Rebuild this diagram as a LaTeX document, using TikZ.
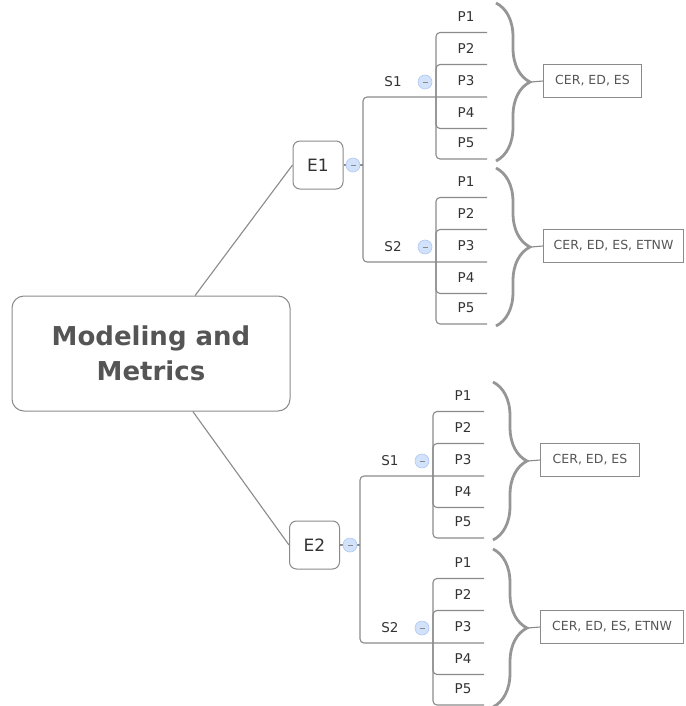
\documentclass[tikz,border=0pt]{standalone}
\usepackage{fontspec}
\setmainfont{DejaVu Sans}
\usetikzlibrary{decorations.pathreplacing,calc}
\definecolor{ln}{HTML}{8A8A8A}
\definecolor{tx}{HTML}{333333}
\definecolor{tt}{HTML}{555555}
\definecolor{cf}{HTML}{D3E2FB}
\definecolor{cb}{HTML}{AFC8F3}
\tikzset{
 conn/.style={draw=ln, line width=1.1pt},
 elbow/.style={conn, rounded corners=4pt},
 topicbox/.style={draw=ln, line width=1pt, rounded corners=7pt, minimum width=50pt, minimum height=48pt, font=\fontsize{17}{20}\selectfont, text=tx},
 leaf/.style={font=\fontsize{13.5}{15}\selectfont, text=tx, inner sep=0pt},
 collapse/.style={circle, fill=cf, draw=cb, line width=0.6pt, minimum size=14pt, inner sep=0pt,
   path picture={\draw[ln, line width=0.8pt] ([xshift=-2.5pt]path picture bounding box.center) -- ([xshift=2.5pt]path picture bounding box.center);}},
 notebox/.style={draw=ln, line width=1pt, font=\fontsize{12.5}{14}\selectfont, text=tt, minimum height=33pt, inner xsep=6pt, anchor=west},
 bracestyle/.style={draw=ln!90, line width=2.8pt, decorate, decoration={brace, amplitude=34pt, aspect=0.5}},
}
\newcommand{\subgroup}[7]{%
  \coordinate (#1h) at (#4,#5);
  \coordinate (#1e) at ({#4+51},#5);
  \node[leaf] (#1lab) at ({#4-43},{#5-15}) {#2};
  \node[collapse] (#1c) at ({#4-11},{#5-15}) {};
  \draw[elbow] (#3) |- (#1e);
  \foreach \k/\off in {1/-64.5,2/-32.5,4/31.5,5/62}{
     \coordinate (#1u\k) at ({#4+51},{#5+(\off)});
     \draw[elbow] (#1h) |- (#1u\k);
  }
  \foreach \k/\off in {1/-64.5,2/-32.5,3/0,4/31.5,5/62}{
     \node[leaf] (#1p\k) at ({#4+30},{#5+(\off)-16}) {P\k};
  }
  \coordinate (#1bt) at ({#4+60},{#5-94});
  \coordinate (#1bb) at ({#4+60},{#5+64});
  \draw[bracestyle] (#1bt) -- (#1bb);
  \coordinate (#1tip) at ({#4+95},{#5-15});
  \node[notebox, minimum width=#7] (#1n) at ({#4+107},{#5-16}) {#6};
  \draw[conn] (#1tip) -- (#1n.west);
}
\begin{document}
\begin{tikzpicture}[x=1pt,y=-1pt]
\useasboundingbox (0,0) rectangle (685,706);
\node[draw=ln, line width=1pt, rounded corners=12pt, minimum width=278pt, minimum height=115pt,
      align=center, text=tt, font=\bfseries\fontsize{26}{35}\selectfont] (C) at (151,353.5) {Modeling and\\Metrics};
\node[topicbox] (E1) at (318,165) {E1};
\node[topicbox] (E2) at (314.5,545) {E2};
\coordinate (E1hub) at (363,165);
\coordinate (E2hub) at (360,545);
\draw[conn] ($(C.north west)!0.658!(C.north east)$) -- (E1.west);
\draw[conn] ($(C.south west)!0.65!(C.south east)$) -- (E2.west);
\draw[conn] (E1.east) -- (E1hub);
\draw[conn] (E2.east) -- (E2hub);
\node[collapse] (E1c) at (353,165) {};
\node[collapse] (E2c) at (350,545) {};
\subgroup{aa}{S1}{E1hub}{436}{97}{CER, ED, ES}{98pt}
\subgroup{ab}{S2}{E1hub}{436}{262}{CER, ED, ES, ETNW}{140pt}
\subgroup{ba}{S1}{E2hub}{433}{476}{CER, ED, ES}{99pt}
\subgroup{bb}{S2}{E2hub}{433}{643}{CER, ED, ES, ETNW}{143pt}
\end{tikzpicture}
\end{document}
